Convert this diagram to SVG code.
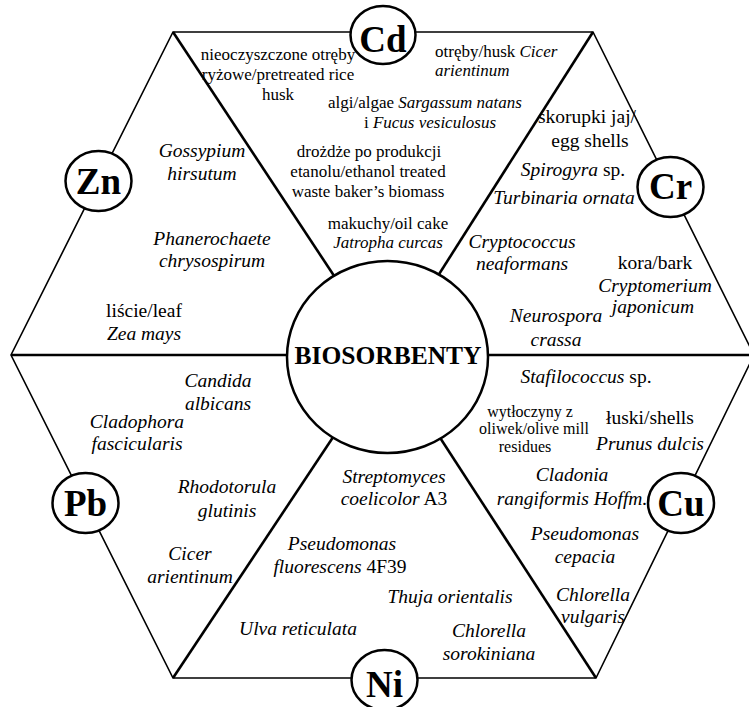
<svg xmlns="http://www.w3.org/2000/svg" width="749" height="707" viewBox="0 0 749 707">
<style>
text{font-family:"Liberation Serif","Times New Roman",serif;font-size:19.5px;fill:#000;text-anchor:middle}
.s{font-size:17px}
.xs{font-size:16px}
.l{text-anchor:start}
.i,tspan.i{font-style:italic}
.m{font-size:37px;font-weight:bold}
.c{font-size:25.5px;font-weight:bold}
.edge{stroke:#000;stroke-width:1.6;fill:none}
.spoke{stroke:#000;stroke-width:2.6;fill:none}
.node{fill:#fff;stroke:#000;stroke-width:2.5}
</style>
<rect width="749" height="707" fill="#fff"/>
<g id="connectors">
<polygon class="edge" points="173,32 593,32 754,355 596,678 173,678 11,355"/>
<line class="spoke" x1="173" y1="32" x2="387" y2="356"/>
<line class="spoke" x1="593" y1="32" x2="387" y2="356"/>
<line class="spoke" x1="173" y1="678" x2="387" y2="356"/>
<line class="spoke" x1="596" y1="678" x2="387" y2="356"/>
<line class="spoke" x1="11" y1="355" x2="754" y2="355"/>
</g>
<g id="center">
<ellipse class="node" cx="387.5" cy="357" rx="100.5" ry="96"/>
<text class="c" x="388" y="364">BIOSORBENTY</text>
</g>
<g id="node-cd">
<ellipse class="node" cx="383" cy="35" rx="32.5" ry="29"/>
<text class="m" x="383" y="52">Cd</text>
</g>
<g id="node-zn">
<ellipse class="node" cx="98.5" cy="181" rx="33" ry="30"/>
<text class="m" x="98.5" y="194">Zn</text>
</g>
<g id="node-cr">
<ellipse class="node" cx="670.5" cy="187" rx="33" ry="30"/>
<text class="m" x="670.5" y="199">Cr</text>
</g>
<g id="node-pb">
<ellipse class="node" cx="85.5" cy="503" rx="33" ry="30"/>
<text class="m" x="85.5" y="516">Pb</text>
</g>
<g id="node-cu">
<ellipse class="node" cx="681" cy="503" rx="33" ry="30"/>
<text class="m" x="681" y="516">Cu</text>
</g>
<g id="node-ni">
<ellipse class="node" cx="384.5" cy="680" rx="33" ry="30"/>
<text class="m" x="384.5" y="697">Ni</text>
</g>
<g id="sector-cd">
<text class="s" x="278" y="60">nieoczyszczone otręby</text>
<text class="s" x="278" y="80">ryżowe/pretreated rice</text>
<text class="s" x="278" y="100">husk</text>
<text class="s l" x="435" y="57">otręby/husk <tspan class="i">Cicer</tspan></text>
<text class="s l i" x="435" y="76">arientinum</text>
<text class="s" x="425" y="108">algi/algae <tspan class="i">Sargassum natans</tspan></text>
<text class="s" x="430" y="128">i <tspan class="i">Fucus vesiculosus</tspan></text>
<text class="s" x="369" y="157">drożdże po produkcji</text>
<text class="s" x="368" y="177">etanolu/ethanol treated</text>
<text class="s" x="368" y="197">waste baker’s biomass</text>
<text class="s" x="388" y="229">makuchy/oil cake</text>
<text class="s i" x="388" y="248">Jatropha curcas</text>
</g>
<g id="sector-cr">
<text x="587" y="123">skorupki jaj/</text>
<text x="590" y="147">egg shells</text>
<text x="573" y="176"><tspan class="i">Spirogyra</tspan> sp.</text>
<text class="i" x="564" y="204">Turbinaria ornata</text>
<text class="i" x="522" y="248">Cryptococcus</text>
<text class="i" x="522" y="270">neaformans</text>
<text x="655" y="269">kora/bark</text>
<text class="i" x="655" y="292">Cryptomerium</text>
<text class="i" x="653" y="313">japonicum</text>
<text class="i" x="556" y="322">Neurospora</text>
<text class="i" x="556" y="346">crassa</text>
</g>
<g id="sector-zn">
<text class="i" x="202" y="157">Gossypium</text>
<text class="i" x="202" y="180">hirsutum</text>
<text class="i" x="212" y="245">Phanerochaete</text>
<text class="i" x="212" y="267">chrysospirum</text>
<text x="144" y="317">liście/leaf</text>
<text class="i" x="144" y="340">Zea mays</text>
</g>
<g id="sector-pb">
<text class="i" x="218" y="387">Candida</text>
<text class="i" x="218" y="410">albicans</text>
<text class="i" x="137" y="428">Cladophora</text>
<text class="i" x="137" y="450">fascicularis</text>
<text class="i" x="227" y="493">Rhodotorula</text>
<text class="i" x="227" y="517">glutinis</text>
<text class="i" x="190" y="560">Cicer</text>
<text class="i" x="190" y="583">arientinum</text>
</g>
<g id="sector-ni">
<text class="i" x="394" y="483">Streptomyces</text>
<text x="394" y="505"><tspan class="i">coelicolor</tspan> A3</text>
<text class="i" x="342" y="550">Pseudomonas</text>
<text x="340" y="573"><tspan class="i">fluorescens</tspan> 4F39</text>
<text class="i" x="450" y="603">Thuja orientalis</text>
<text class="i" x="298" y="635">Ulva reticulata</text>
<text class="i" x="489" y="637">Chlorella</text>
<text class="i" x="489" y="660">sorokiniana</text>
</g>
<g id="sector-cu">
<text x="586" y="383"><tspan class="i">Stafilococcus</tspan> sp.</text>
<text class="xs" x="530" y="417">wytłoczyny z</text>
<text class="xs" x="534" y="434">oliwek/olive mill</text>
<text class="xs" x="525" y="452">residues</text>
<text x="650" y="424">łuski/shells</text>
<text class="i" x="650" y="450">Prunus dulcis</text>
<text class="i" x="572" y="481">Cladonia</text>
<text class="i" x="572" y="505">rangiformis Hoffm.</text>
<text class="i" x="585" y="540">Pseudomonas</text>
<text class="i" x="585" y="563">cepacia</text>
<text class="i" x="593" y="601">Chlorella</text>
<text class="i" x="593" y="623">vulgaris</text>
</g>
</svg>
